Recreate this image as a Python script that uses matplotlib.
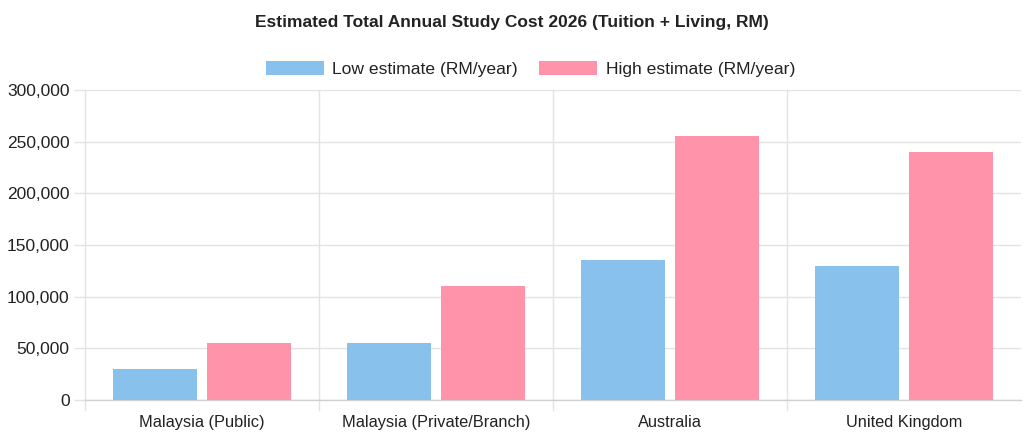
import numpy as np
import matplotlib
matplotlib.use("Agg")
import matplotlib.pyplot as plt
from matplotlib.ticker import FuncFormatter

# ── Data ──────────────────────────────────────────────────
categories = ["Malaysia (Public)", "Malaysia (Private/Branch)",
              "Australia", "United Kingdom"]
low_estimate = [30000, 55000, 135000, 130000]
high_estimate = [55000, 110000, 255000, 240000]

BLUE = "#88c1ec"
PINK = "#fe93a9"
GRID = "#e3e3e3"

plt.rcParams.update({
    "font.family": ["Liberation Sans", "DejaVu Sans"],
    "figure.facecolor": "white",
    "axes.facecolor": "white",
})

fig = plt.figure(figsize=(10.24, 4.36), dpi=100)
ax = fig.add_axes([0.083, 0.0826, 0.914, 0.711])

x = np.arange(len(categories))
slot = 0.8 / 2
bar_w = slot * 0.9
ax.bar(x - slot / 2, low_estimate, width=bar_w, color=BLUE,
       label="Low estimate (RM/year)", zorder=3)
ax.bar(x + slot / 2, high_estimate, width=bar_w, color=PINK,
       label="High estimate (RM/year)", zorder=3)

# ── Axes ──────────────────────────────────────────────────
ax.set_xlim(-0.5, len(categories) - 0.5)
ax.set_ylim(0, 300000)
ax.set_yticks(np.arange(0, 300001, 50000))
ax.yaxis.set_major_formatter(FuncFormatter(lambda v, _: f"{int(v):,}"))
ax.set_xticks(x)
ax.set_xticklabels(categories)
ax.tick_params(axis="x", length=0, pad=11, labelsize=11.8, colors="#222222")
ax.tick_params(axis="y", length=8, width=1, color=GRID, pad=3,
               labelsize=12.5, labelcolor="#222222")

# horizontal grid
ax.grid(axis="y", color=GRID, linewidth=1, zorder=0)
# vertical grid between categories, extended a bit below the axis
for b in np.arange(-0.5, len(categories) - 0.5, 1.0):
    ax.plot([b, b], [-10000, 300000], color=GRID, linewidth=1,
            zorder=1, clip_on=False)

for side in ["top", "right", "left"]:
    ax.spines[side].set_visible(False)
ax.spines["bottom"].set_color("#d0d0d0")
ax.spines["bottom"].set_linewidth(1)

# ── Legend & title ────────────────────────────────────────
fig.legend(loc="center", bbox_to_anchor=(0.518, 0.842), ncol=2,
           frameon=False, fontsize=12.6, handlelength=3.3,
           handleheight=0.85, columnspacing=1.2, handletextpad=0.5,
           labelcolor="#222222")
fig.text(0.5, 0.948,
         "Estimated Total Annual Study Cost 2026 (Tuition + Living, RM)",
         ha="center", va="center", fontsize=12.5, fontweight="bold",
         color="#222222")

fig.savefig("out.png", dpi=100, facecolor="white")
